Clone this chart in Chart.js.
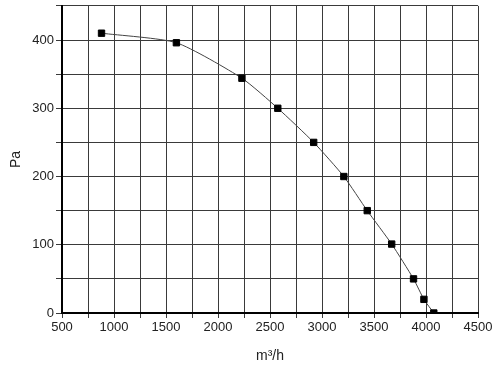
<!DOCTYPE html>
<html>
<head>
<meta charset="utf-8">
<script src="https://cdn.jsdelivr.net/npm/chart.js@4"></script>
<style>
  html, body { margin: 0; padding: 0; background: #fff; }
  #wrap { width: 500px; height: 375px; }
</style>
</head>
<body>
<div id="wrap"><canvas id="grafico"></canvas></div>
<script>
// dados da curva (vazão x pressão)
const vazao = [880, 1600, 2230, 2575, 2920, 3210, 3435, 3670, 3880, 3980, 4075];
const pressao = [410, 396, 344, 300, 250, 200, 150, 101, 50, 20, 0];

// limites e passos dos eixos
const xMin = 500, xMax = 4500, xPasso = 250, xRotulo = 500;
const yMin = 0, yMax = 450, yPasso = 50, yRotulo = 100;

const pontos = vazao.map((v, i) => ({ x: v, y: pressao[i] }));

const fonte = { family: "'Liberation Sans', Arial, sans-serif", size: 13 };

new Chart(document.getElementById("grafico").getContext("2d"), {
  type: "line",
  data: {
    datasets: [{
      data: pontos,
      borderColor: "#444",
      borderWidth: 1,
      tension: 0.2,
      pointStyle: "rect",
      pointRadius: 4.5,
      pointBackgroundColor: "#000",
      pointBorderColor: "#000",
      pointBorderWidth: 1
    }]
  },
  options: {
    responsive: true,
    maintainAspectRatio: false,
    animation: false,
    layout: { padding: { top: 5, right: 22, left: 0, bottom: 0 } },
    plugins: { legend: { display: false }, tooltip: { enabled: false } },
    scales: {
      x: {
        type: "linear",
        min: xMin,
        max: xMax,
        afterFit: (s) => { s.height = 62; },
        border: { color: "#000", width: 2 },
        grid: { color: "#3a3a3a", lineWidth: 1, tickLength: 5 },
        ticks: {
          stepSize: xPasso,
          padding: 2,
          color: "#222",
          font: fonte,
          maxRotation: 0,
          autoSkip: false,
          callback: (v) => (v % xRotulo === 0 ? v : "")
        },
        title: {
          display: true,
          text: "m³/h",
          color: "#222",
          font: { family: fonte.family, size: 14 },
          padding: { top: 0, bottom: 10 }
        }
      },
      y: {
        min: yMin,
        max: yMax,
        afterFit: (s) => { s.width = 62; },
        border: { color: "#000", width: 2 },
        grid: { color: "#3a3a3a", lineWidth: 1, tickLength: 6 },
        ticks: {
          stepSize: yPasso,
          padding: 2,
          color: "#222",
          font: { family: fonte.family, size: 13, lineHeight: 0.6 },
          autoSkip: false,
          callback: (v) => (v % yRotulo === 0 ? v : "")
        },
        title: {
          display: true,
          text: "Pa",
          color: "#222",
          font: { family: fonte.family, size: 14 },
          padding: { top: 8, bottom: 0 }
        }
      }
    }
  }
});
</script>
</body>
</html>
